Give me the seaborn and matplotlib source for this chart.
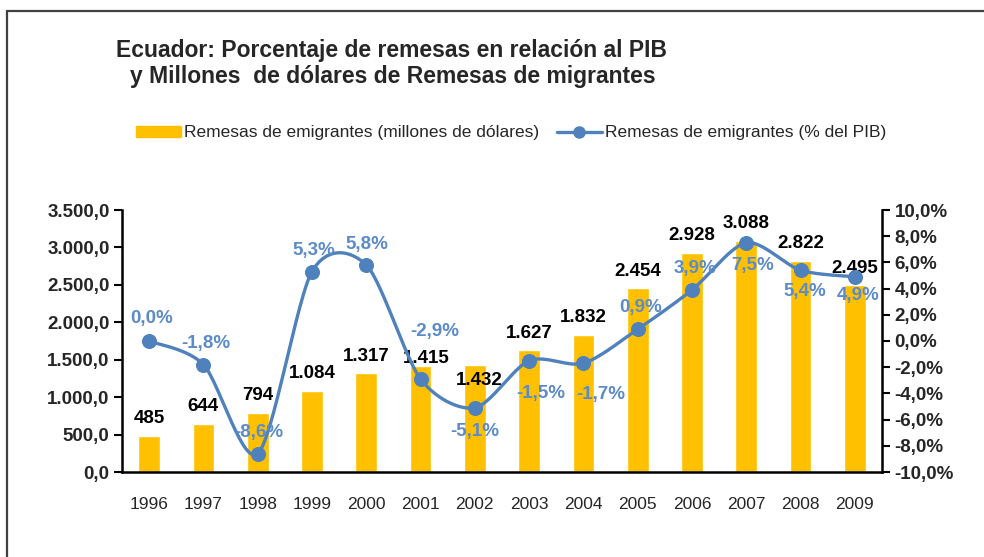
import numpy as np
import pandas as pd
import matplotlib
matplotlib.use("Agg")
import matplotlib.pyplot as plt
from matplotlib.patches import Rectangle
from matplotlib.lines import Line2D
from matplotlib.patches import Patch
import seaborn as sns

# data
years = ["1996", "1997", "1998", "1999", "2000", "2001", "2002",
         "2003", "2004", "2005", "2006", "2007", "2008", "2009"]
remesas_musd = [485, 644, 794, 1084, 1317, 1415, 1432,
                1627, 1832, 2454, 2928, 3088, 2822, 2495]
remesas_pib = [0.0, -1.8, -8.6, 5.3, 5.8, -2.9, -5.1,
               -1.5, -1.7, 0.9, 3.9, 7.5, 5.4, 4.9]

bar_label_offsets = [(0, 17)] * 5 + [(6, 8), (4, -16)] + [(0, 17)] * 7
pct_label_offsets = [(2, 22), (2, 21), (1, 21), (2, 21), (1, 21), (14, 47), (0, -24),
                     (12, -33), (17, -31), (3, 22), (3, 21), (6, -23), (4, -21), (3, -19)]

BAR = "#FFC000"
LINE = "#4F81BD"
FONT = ["Liberation Sans", "DejaVu Sans"]


def fmt_thousands(v):
    return f"{v:,}".replace(",", ".")


def fmt_axis(v):
    return f"{v:,.1f}".replace(",", "X").replace(".", ",").replace("X", ".")


def smooth(xs, ys, n=30, k=0.14):
    # bezier smoothing, close to Excel's "smoothed line"
    xs = np.asarray(xs, float)
    ys = np.asarray(ys, float)
    px = np.concatenate([[xs[0]], xs, [xs[-1]]])
    py = np.concatenate([[ys[0]], ys, [ys[-1]]])
    outx, outy = [], []
    for i in range(1, len(px) - 2):
        p0, p1, p2, p3 = (np.array([px[j], py[j]]) for j in (i - 1, i, i + 1, i + 2))
        c1 = p1 + (p2 - p0) * k
        c2 = p2 - (p3 - p1) * k
        t = np.linspace(0, 1, n)[:, None]
        pts = ((1 - t) ** 3) * p1 + 3 * ((1 - t) ** 2) * t * c1 + 3 * (1 - t) * t ** 2 * c2 + t ** 3 * p2
        outx.extend(pts[:, 0])
        outy.extend(pts[:, 1])
    return np.array(outx), np.array(outy)


sns.set_style("white")
plt.rcParams['font.family'] = FONT

df = pd.DataFrame({"year": years, "musd": remesas_musd, "pib": remesas_pib})

fig = plt.figure(figsize=(9.84, 5.57), dpi=100)
ax = fig.add_axes([122 / 984, 1 - 472 / 557, 760 / 984, 262 / 557])

sns.barplot(data=df, x="year", y="musd", color=BAR, width=0.4, saturation=1, ax=ax)
ax.set_xlim(-0.5, len(years) - 0.5)
ax.set_ylim(0, 3500)
ax.set_yticks(np.arange(0, 3501, 500))
ax.set_yticklabels([fmt_axis(v) for v in np.arange(0, 3501, 500)],
                   fontsize=13.5, fontweight="bold")
ax.set_xticks(np.arange(len(years)))
ax.set_xticklabels(years, fontsize=12.5)
ax.set_xticks(np.arange(-0.5, len(years)), minor=True)
ax.tick_params(axis="x", which="major", length=0, pad=18)
ax.tick_params(axis="x", which="minor", length=6, width=1.5, direction="out", color="black")
ax.tick_params(axis="y", length=6, width=1.5, direction="out", color="black", pad=3)
ax.set_xlabel("")
ax.set_ylabel("")
for s in ["top", "right"]:
    ax.spines[s].set_visible(False)
for s in ["left", "bottom"]:
    ax.spines[s].set_linewidth(1.8)
    ax.spines[s].set_color("black")

for i, v in enumerate(remesas_musd):
    dx, dy = bar_label_offsets[i]
    ax.annotate(fmt_thousands(v), (i, v), xytext=(dx, dy), textcoords="offset pixels",
                ha="center", va="center", fontsize=13.5, fontweight="bold", color="black")

ax2 = ax.twinx()
ax2.set_ylim(-10, 10)
ax2.set_yticks(np.arange(-10, 11, 2))
ax2.set_yticklabels([f"{v:.1f}%".replace(".", ",") for v in np.arange(-10, 11, 2)],
                    fontsize=13.5, fontweight="bold")
ax2.tick_params(axis="y", length=6, width=1.5, direction="out", color="black", pad=3)
for s in ["top", "left", "bottom"]:
    ax2.spines[s].set_visible(False)
ax2.spines["right"].set_linewidth(1.8)
ax2.spines["right"].set_color("black")

sx, sy = smooth(np.arange(len(years)), remesas_pib)
ax2.plot(sx, sy, color=LINE, lw=2.4, zorder=3)
sns.scatterplot(x=np.arange(len(years)), y=remesas_pib, color=LINE, s=100,
                edgecolor=LINE, ax=ax2, zorder=4)
ax2.set_xlim(-0.5, len(years) - 0.5)

for i, v in enumerate(remesas_pib):
    dx, dy = pct_label_offsets[i]
    ax2.annotate(f"{v:.1f}%".replace(".", ","), (i, v), xytext=(dx, dy),
                 textcoords="offset pixels", ha="center", va="center",
                 fontsize=13.5, fontweight="bold", color="#5B8BC9", zorder=5)

fig.text(392 / 984, 1 - 51 / 557, "Ecuador: Porcentaje de remesas en relación al PIB",
         ha="center", va="center", fontsize=16.5, fontweight="bold")
fig.text(393 / 984, 1 - 77 / 557, "y Millones  de dólares de Remesas de migrantes",
         ha="center", va="center", fontsize=16.5, fontweight="bold")

handles = [Patch(facecolor=BAR, edgecolor=BAR),
           Line2D([0], [0], color=LINE, lw=2.4, marker="o", markersize=8)]
labels = ["Remesas de emigrantes (millones de dólares)", "Remesas de emigrantes (% del PIB)"]
fig.legend(handles, labels, loc="center", bbox_to_anchor=(511 / 984, 1 - 133 / 557),
           ncol=2, frameon=False, fontsize=12.5, handlelength=2.6, handleheight=0.55,
           columnspacing=1.0, handletextpad=0.2)

fig.patches.append(Rectangle((7 / 984, -0.1), 1.1, 1.1 - 11 / 557, transform=fig.transFigure,
                             fill=False, edgecolor="#404040", lw=1.6, clip_on=False))

fig.savefig("out.png", dpi=100)
